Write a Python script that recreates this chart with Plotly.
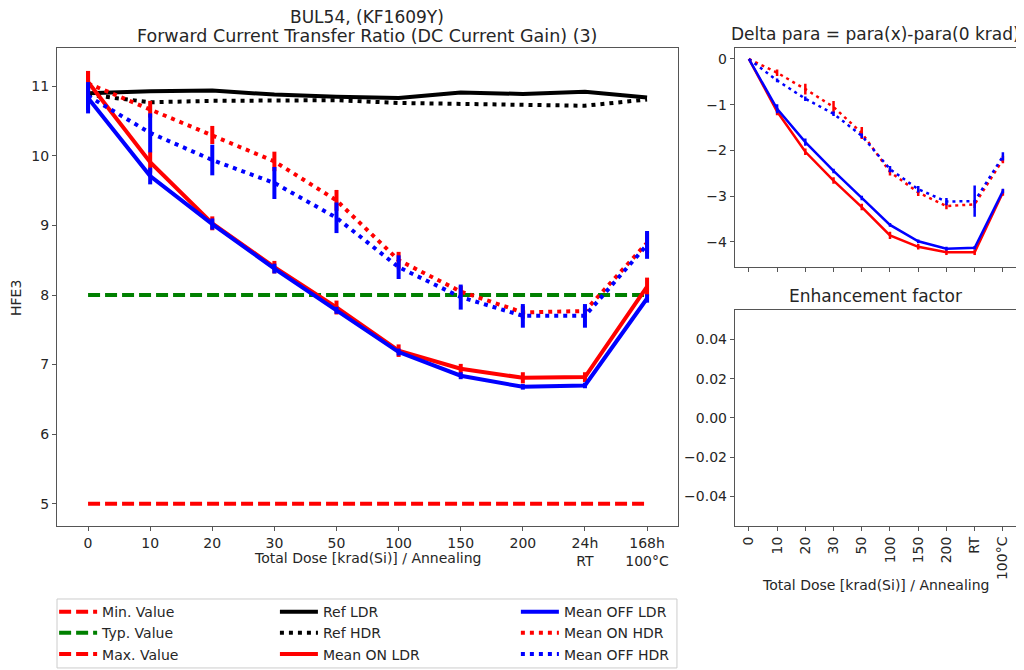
import plotly.graph_objects as go

# ---------------- data ----------------
dose_labels = ["0", "10", "20", "30", "50", "100", "150", "200", "24h<br>RT", "168h<br>100°C"]
delta_labels = ["0", "10", "20", "30", "50", "100", "150", "200", "RT", "100°C"]

min_value = [5.0] * 10
typ_value = [8.0] * 10
max_value = [None] * 10

ref_ldr = [10.90, 10.93, 10.94, 10.88, 10.85, 10.83, 10.91, 10.89, 10.92, 10.84]
ref_hdr = [10.88, 10.77, 10.79, 10.80, 10.80, 10.76, 10.75, 10.73, 10.72, 10.81]

on_ldr = [11.06, 9.91, 9.03, 8.40, 7.82, 7.20, 6.94, 6.81, 6.82, 8.12]
on_ldr_err = [0.16, 0.15, 0.10, 0.09, 0.10, 0.09, 0.07, 0.08, 0.07, 0.13]
off_ldr = [10.83, 9.71, 9.02, 8.38, 7.78, 7.18, 6.84, 6.68, 6.70, 7.95]
off_ldr_err = [0.22, 0.12, 0.08, 0.07, 0.05, 0.05, 0.05, 0.04, 0.04, 0.06]
on_hdr = [11.04, 10.67, 10.30, 9.92, 9.36, 8.50, 8.05, 7.75, 7.77, 8.75]
on_hdr_err = [0.18, 0.12, 0.13, 0.14, 0.15, 0.12, 0.08, 0.09, 0.08, 0.15]
off_hdr = [10.86, 10.33, 9.94, 9.61, 9.11, 8.40, 7.97, 7.70, 7.70, 8.72]
off_hdr_err = [0.20, 0.28, 0.22, 0.23, 0.22, 0.17, 0.18, 0.17, 0.17, 0.20]

d_on_ldr = [0.0, -1.15, -2.03, -2.66, -3.24, -3.86, -4.11, -4.23, -4.23, -2.92]
d_on_ldr_err = [0.0, 0.08, 0.07, 0.07, 0.07, 0.08, 0.06, 0.06, 0.06, 0.07]
d_off_ldr = [0.0, -1.09, -1.82, -2.45, -3.04, -3.63, -3.99, -4.15, -4.13, -2.89]
d_off_ldr_err = [0.0, 0.10, 0.08, 0.05, 0.05, 0.04, 0.04, 0.04, 0.04, 0.05]
d_on_hdr = [0.0, -0.30, -0.66, -1.05, -1.62, -2.47, -2.92, -3.22, -3.18, -2.20]
d_on_hdr_err = [0.0, 0.07, 0.12, 0.13, 0.13, 0.08, 0.08, 0.07, 0.08, 0.08]
d_off_hdr = [0.0, -0.47, -0.87, -1.20, -1.68, -2.41, -2.85, -3.12, -3.11, -2.13]
d_off_hdr_err = [0.0, 0.04, 0.05, 0.05, 0.05, 0.07, 0.07, 0.08, 0.34, 0.09]

enhancement = []  # no enhancement-factor data shown

xi = list(range(len(dose_labels)))

FONT = "DejaVu Sans"
RED, BLUE, GREEN, BLACK = "#ff0000", "#0000ff", "#008000", "#000000"
DOT = "4px,5px"
DASH = "12px,5px"

fig = go.Figure()


def add(y, name, color, dash, width, err=None, xa="x", ya="y", legend="legend", show=True, ew=4):
    kw = {}
    if err is not None:
        kw["error_y"] = dict(type="data", array=err, visible=True, color=color,
                             thickness=ew, width=0)
    fig.add_trace(go.Scatter(
        x=xi, y=y, mode="lines", name=name,
        line=dict(color=color, width=width, dash=dash),
        xaxis=xa, yaxis=ya, legend=legend, showlegend=show, **kw))


# main plot
add(min_value, "Min. Value", RED, DASH, 4, legend="legend")
add(typ_value, "Typ. Value", GREEN, DASH, 4, legend="legend")
add(max_value, "Max. Value", RED, DASH, 4, legend="legend")
add(ref_ldr, "Ref LDR", BLACK, "solid", 4, legend="legend2")
add(ref_hdr, "Ref HDR", BLACK, DOT, 4, legend="legend2")
add(on_ldr, "Mean ON LDR", RED, "solid", 4, on_ldr_err, legend="legend2")
add(off_ldr, "Mean OFF LDR", BLUE, "solid", 4, off_ldr_err, legend="legend3")
add(on_hdr, "Mean ON HDR", RED, DOT, 4, on_hdr_err, legend="legend3")
add(off_hdr, "Mean OFF HDR", BLUE, DOT, 4, off_hdr_err, legend="legend3")

# delta plot
add(d_on_ldr, "d ON LDR", RED, "solid", 2.5, d_on_ldr_err, xa="x2", ya="y2", show=False, ew=2.5)
add(d_off_ldr, "d OFF LDR", BLUE, "solid", 2.5, d_off_ldr_err, xa="x2", ya="y2", show=False, ew=2.5)
add(d_on_hdr, "d ON HDR", RED, "3px,4px", 2.5, d_on_hdr_err, xa="x2", ya="y2", show=False, ew=2.5)
add(d_off_hdr, "d OFF HDR", BLUE, "3px,4px", 2.5, d_off_hdr_err, xa="x2", ya="y2", show=False, ew=2.5)

# enhancement factor plot (empty)
fig.add_trace(go.Scatter(x=enhancement, y=enhancement, mode="lines", xaxis="x3", yaxis="y3",
                         showlegend=False, hoverinfo="skip"))

axis_common = dict(showline=True, mirror=True, linecolor="#555555", linewidth=1,
                   ticks="outside", ticklen=4, tickcolor="#555555", showgrid=False,
                   zeroline=False, tickfont=dict(family=FONT, size=14, color="#262626"))

# page body adds an 8px offset; figure is sized to fill the rest of the window
fig.update_layout(
    width=1016, height=662,
    margin=dict(l=49, r=7, t=40, b=144, autoexpand=False),
    paper_bgcolor="white", plot_bgcolor="white",
    font=dict(family=FONT, size=14, color="#262626"),
    xaxis=dict(domain=[0, 0.647], range=[-0.5, 9.5], tickmode="array",
               tickvals=xi, ticktext=dose_labels, anchor="y", **axis_common),
    yaxis=dict(domain=[0, 1], range=[4.68, 11.55], dtick=1, anchor="x", **axis_common),
    xaxis2=dict(domain=[0.706, 1], range=[-0.5, 9.5], tickmode="array",
                tickvals=xi, showticklabels=False, anchor="y2", **axis_common),
    yaxis2=dict(domain=[0.542, 1], range=[-4.55, 0.24], dtick=1, anchor="x2", **axis_common),
    xaxis3=dict(domain=[0.706, 1], range=[-0.5, 9.5], tickmode="array",
                tickvals=xi, ticktext=delta_labels, tickangle=-90, anchor="y3", **axis_common),
    yaxis3=dict(domain=[0, 0.452], range=[-0.055, 0.055], tickmode="array",
                tickvals=[-0.04, -0.02, 0.0, 0.02, 0.04], tickformat=".2f",
                anchor="x3", **axis_common),
)

leg_common = dict(orientation="v", yanchor="top", xanchor="left", bgcolor="rgba(0,0,0,0)",
                  borderwidth=0, font=dict(family=FONT, size=14, color="#262626"),
                  itemwidth=38, tracegroupgap=0)
fig.update_layout(
    legend=dict(x=-0.003, y=-0.1466, **leg_common),
    legend2=dict(x=0.227, y=-0.1466, **leg_common),
    legend3=dict(x=0.478, y=-0.1466, **leg_common),
)

# legend frame
fig.add_shape(type="rect", xref="paper", yref="paper", x0=0.0, x1=0.6458,
              y0=-0.297, y1=-0.1527, line=dict(color="#cccccc", width=1),
              fillcolor="rgba(0,0,0,0)", layer="below")

ann = [
    dict(text="BUL54, (KF1609Y)", x=0.3234, y=1, yanchor="middle", yshift=31, font=dict(size=17)),
    dict(text="Forward Current Transfer Ratio (DC Current Gain) (3)", x=0.3234, y=1,
         yanchor="middle", yshift=12, font=dict(size=17.5)),
    dict(text="Delta para = para(x)-para(0 krad)", x=0.853, y=1, yanchor="bottom",
         yshift=2, font=dict(size=17)),
    dict(text="Enhancement factor", x=0.853, y=0.452, yanchor="bottom", yshift=2,
         font=dict(size=17)),
    dict(text="HFE3", x=-0.0427, y=0.477, textangle=-90, xanchor="center",
         yanchor="middle", font=dict(size=14)),
    dict(text="Total Dose [krad(Si)] / Annealing", x=0.3234, y=-0.067,
         yanchor="middle", font=dict(size=14)),
    dict(text="Total Dose [krad(Si)] / Annealing", x=0.853, y=-0.123,
         yanchor="middle", font=dict(size=14)),
]
for a in ann:
    a.update(xref="paper", yref="paper", showarrow=False)
    a.setdefault("xanchor", "center")
    a["font"] = dict(family=FONT, color="#262626", size=a["font"]["size"])
    fig.add_annotation(**a)

fig.write_html("out.html")
